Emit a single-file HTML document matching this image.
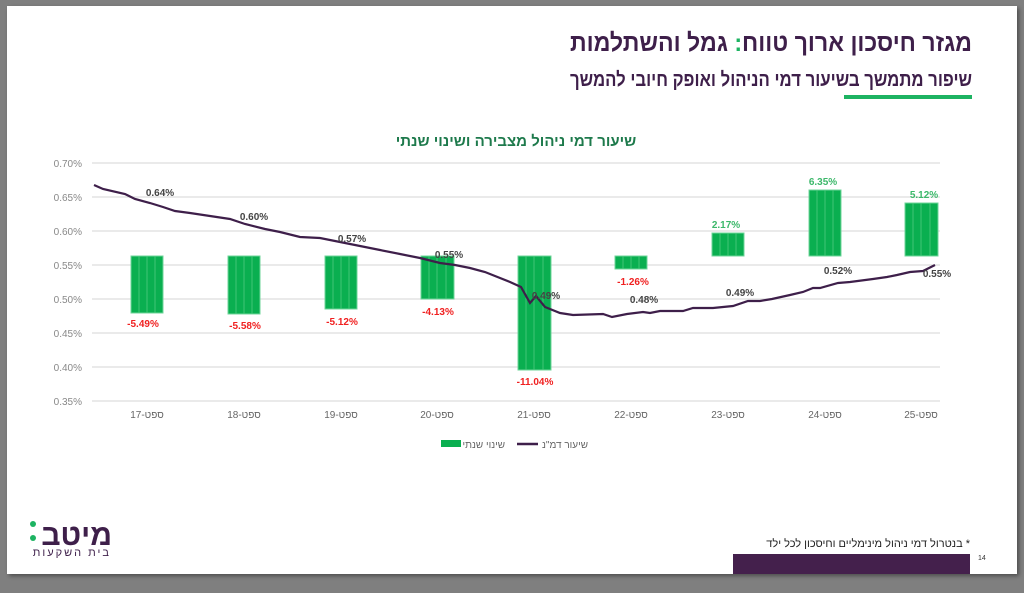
<!DOCTYPE html>
<html><head><meta charset="utf-8"><style>
body{margin:0;width:1024px;height:588px;background:#7f7f7f;overflow:hidden;font-family:"Liberation Sans","Noto Sans CJK SC",sans-serif}
</style></head><body>
<svg width="1024" height="588" xmlns="http://www.w3.org/2000/svg" font-family="Liberation Sans, Noto Sans CJK SC, sans-serif">
<defs><filter id="sh"><feDropShadow dx="2" dy="2" stdDeviation="2" flood-opacity="0.4"/></filter></defs>
<rect x="7" y="6" width="1010" height="568" fill="#fff" filter="url(#sh)"/>
<text x="972" y="51" text-anchor="end" font-size="25" font-weight="bold" fill="#3e1f4a" textLength="402" lengthAdjust="spacingAndGlyphs">מגזר חיסכון ארוך טווח<tspan fill="#1db362">:</tspan> גמל והשתלמות</text>
<text x="972" y="86" text-anchor="end" font-size="20" font-weight="bold" fill="#3e1f4a" textLength="402" lengthAdjust="spacingAndGlyphs">שיפור מתמשך בשיעור דמי הניהול ואופק חיובי להמשך</text>
<rect x="844" y="95" width="128" height="4" fill="#1db362"/>
<text x="516" y="146" text-anchor="middle" font-size="15" font-weight="bold" fill="#1e7a4c">שיעור דמי ניהול מצבירה ושינוי שנתי</text>
<g stroke="#e3e3e3" stroke-width="1.5">
<line x1="92" y1="163" x2="940" y2="163"/><line x1="92" y1="197" x2="940" y2="197"/><line x1="92" y1="231" x2="940" y2="231"/><line x1="92" y1="265" x2="940" y2="265"/><line x1="92" y1="299" x2="940" y2="299"/><line x1="92" y1="333" x2="940" y2="333"/><line x1="92" y1="367" x2="940" y2="367"/><line x1="92" y1="401" x2="940" y2="401"/>
</g>
<g font-size="10" fill="#888" text-anchor="end">
<text x="82" y="167">0.70%</text><text x="82" y="201">0.65%</text><text x="82" y="235">0.60%</text><text x="82" y="269">0.55%</text><text x="82" y="303">0.50%</text><text x="82" y="337">0.45%</text><text x="82" y="371">0.40%</text><text x="82" y="405">0.35%</text>
</g>
<g fill="#0aaf50" stroke="#6fd49a" stroke-width="1">
<rect x="131" y="256" width="32" height="57"/><rect x="228" y="256" width="32" height="58"/><rect x="325" y="256" width="32" height="53"/><rect x="421" y="256" width="33" height="43"/><rect x="518" y="256" width="33" height="114"/><rect x="615" y="256" width="32" height="13"/><rect x="712" y="233" width="32" height="23"/><rect x="809" y="190" width="32" height="66"/><rect x="905" y="203" width="33" height="53"/>
</g>
<g stroke="#4fcc80" stroke-width="0.8">
<path d="M139 256v57M147 256v57M155 256v57M236 256v58M244 256v58M252 256v58M333 256v53M341 256v53M349 256v53M429 256v43M437 256v43M446 256v43M526 256v114M534 256v114M543 256v114M623 256v13M631 256v13M639 256v13M720 233v23M728 233v23M736 233v23M817 190v66M825 190v66M833 190v66M913 203v53M921 203v53M930 203v53"/>
</g>
<polyline fill="none" stroke="#3e1f4a" stroke-width="2.2" points="94,185 103,189 125,194 135,199 150,203 163,207 175,211 190,213 210,216 230,219 245,224 265,229 280,232 300,237 320,238 340,242 360,246 380,250 400,254 420,258 440,263 455,265 470,268 485,272 495,276 510,282 521,287 530,303 536,296 545,307 560,313 573,315 603,314 612,317 627,314 643,312 650,313 660,311 683,311 693,308 713,308 723,307 733,306 748,301 760,301 772,299 790,295 803,292 813,288 820,288 838,283 850,282 873,279 887,277 897,275 910,272 923,271 935,265"/>
<g font-size="10" font-weight="bold" fill="#444" text-anchor="middle">
<text x="160" y="196">0.64%</text><text x="254" y="220">0.60%</text><text x="352" y="242">0.57%</text><text x="449" y="258">0.55%</text><text x="546" y="299">0.49%</text><text x="644" y="303">0.48%</text><text x="740" y="296">0.49%</text><text x="838" y="274">0.52%</text><text x="937" y="277">0.55%</text>
</g>
<g font-size="10" font-weight="bold" fill="#f02020" text-anchor="middle">
<text x="143" y="327">-5.49%</text><text x="245" y="329">-5.58%</text><text x="342" y="325">-5.12%</text><text x="438" y="315">-4.13%</text><text x="535" y="385">-11.04%</text><text x="633" y="285">-1.26%</text>
</g>
<g font-size="10" font-weight="bold" fill="#3cb86a" text-anchor="middle">
<text x="726" y="228">2.17%</text><text x="823" y="185">6.35%</text><text x="924" y="198">5.12%</text>
</g>
<g font-size="10" fill="#666" text-anchor="middle">
<text x="147" y="418">ספט-17</text><text x="244" y="418">ספט-18</text><text x="341" y="418">ספט-19</text><text x="437" y="418">ספט-20</text><text x="534" y="418">ספט-21</text><text x="631" y="418">ספט-22</text><text x="728" y="418">ספט-23</text><text x="825" y="418">ספט-24</text><text x="921" y="418">ספט-25</text>
</g>
<rect x="441" y="440" width="20" height="7" fill="#0aaf50"/>
<text x="505" y="448" font-size="10" fill="#666" text-anchor="end">שינוי שנתי</text>
<line x1="517" y1="444" x2="538" y2="444" stroke="#3e1f4a" stroke-width="2.5"/>
<text x="588" y="448" font-size="10" fill="#666" text-anchor="end">שיעור דמ"נ</text>
<text x="112" y="545" font-size="30" font-weight="bold" fill="#3e1f4a" text-anchor="end">מיטב</text>
<circle cx="33" cy="524" r="3" fill="#1db362"/><circle cx="33" cy="538" r="3" fill="#1db362"/>
<text x="111" y="556" font-size="11" fill="#3e1f4a" text-anchor="end" letter-spacing="2">בית השקעות</text>
<text x="970" y="547" font-size="11" fill="#222" text-anchor="end">בנטרול דמי ניהול מינימליים וחיסכון לכל ילד *</text>
<rect x="733" y="554" width="237" height="20" fill="#44204c"/>
<text x="978" y="560" font-size="7" fill="#333">14</text>
</svg>
</body></html>
